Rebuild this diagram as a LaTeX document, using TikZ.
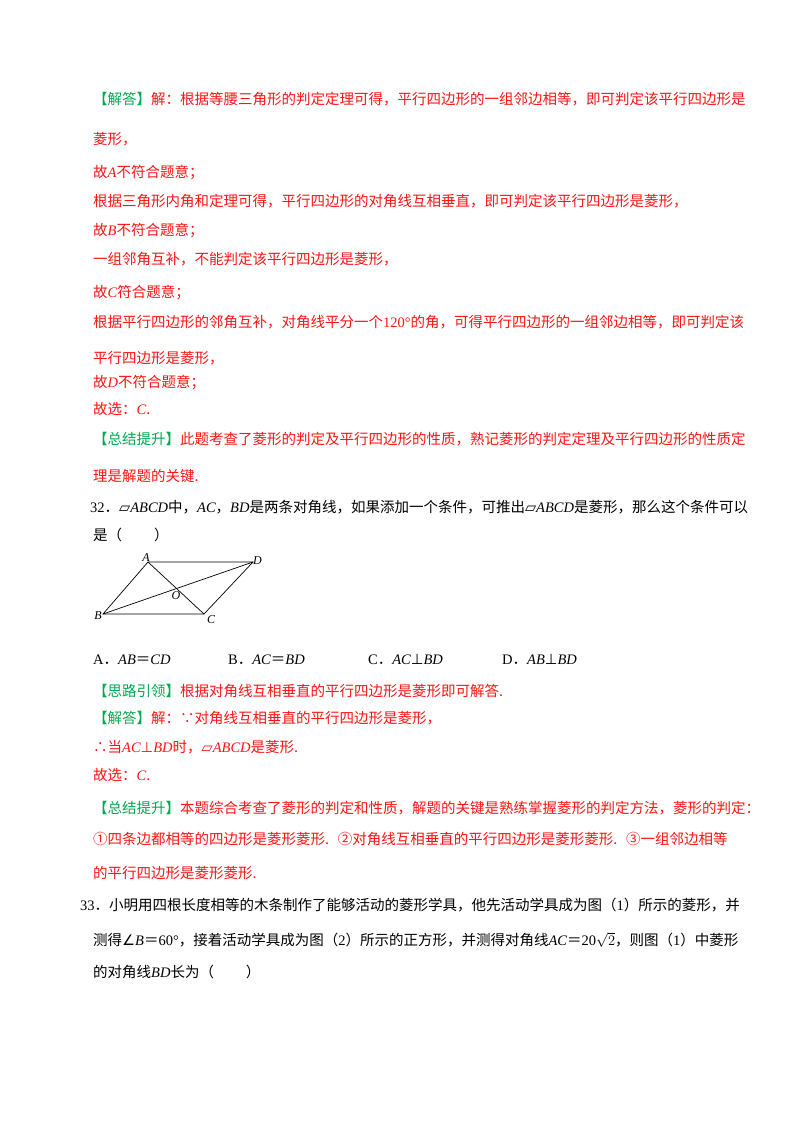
\documentclass[tikz,border=0pt]{standalone}
\usepackage{fontspec}
\setmainfont{Noto Sans CJK SC}
\newfontfamily\lat{Liberation Serif}
\newfontfamily\sym{DejaVu Sans}
\newcommand\vv[1]{{\lat\itshape #1}}
\newcommand\nn[1]{{\lat #1}}
\newcommand\pg{{\sym\symbol{"25B1}}}
\newcommand\myperp{{\sym ⊥}}
\newcommand\myang{{\sym ∠}}
\definecolor{rd}{RGB}{255,20,20}
\definecolor{gr}{RGB}{0,170,80}
\newcommand\tag[1]{{\color{gr}【#1】}}
\begin{document}
\begin{tikzpicture}[x=1pt,y=-1pt,
  ln/.style={anchor=base west,inner sep=0pt,font=\fontsize{14.5}{16}\selectfont},
  rl/.style={ln,text=rd},
  lab/.style={inner sep=1pt,font=\lat\itshape\fontsize{12}{13}\selectfont},
  seg/.style={line width=0.7pt}]
\useasboundingbox (0,0) rectangle (800,1132);
\fill[white] (0,0) rectangle (800,1132);
\node[rl] (l1) at (93,104) {\tag{解答}解：根据等腰三角形的判定定理可得，平行四边形的一组邻边相等，即可判定该平行四边形是};
\node[rl] (l2) at (93,144) {菱形，};
\node[rl] (l3) at (93,177) {故\vv{A}不符合题意；};
\node[rl] (l4) at (93,206) {根据三角形内角和定理可得，平行四边形的对角线互相垂直，即可判定该平行四边形是菱形，};
\node[rl] (l5) at (93,235) {故\vv{B}不符合题意；};
\node[rl] (l6) at (93,264) {一组邻角互补，不能判定该平行四边形是菱形，};
\node[rl] (l7) at (93,297) {故\vv{C}符合题意；};
\node[rl] (l8) at (93,327) {根据平行四边形的邻角互补，对角线平分一个\nn{120°}的角，可得平行四边形的一组邻边相等，即可判定该};
\node[rl] (l9) at (93,363) {平行四边形是菱形，};
\node[rl] (l10) at (93,387) {故\vv{D}不符合题意；};
\node[rl] (l11) at (93,414) {故选：\vv{C}.};
\node[rl] (l12) at (93,444) {\tag{总结提升}此题考查了菱形的判定及平行四边形的性质，熟记菱形的判定定理及平行四边形的性质定};
\node[rl] (l13) at (93,481) {理是解题的关键.};
\node[ln] (q1) at (90,512) {\nn{32}．\pg\vv{ABCD}中，\vv{AC}，\vv{BD}是两条对角线，如果添加一个条件，可推出\pg\vv{ABCD}是菱形，那么这个条件可以};
\node[ln] (q2) at (93,540) {是（\hspace{2.2em}）};
\coordinate (A) at (148,562);
\coordinate (D) at (253,562);
\coordinate (B) at (103,614);
\coordinate (C) at (204,614);
\draw[seg] (A) -- (D) -- (C) -- (B) -- cycle;
\draw[seg] (A) -- (C);
\draw[seg] (B) -- (D);
\node[lab,anchor=south east] (lA) at (151,563) {A};
\node[lab,anchor=west] (lD) at (252,561) {D};
\node[lab,anchor=east] (lB) at (103,616) {B};
\node[lab,anchor=west] (lC) at (206,620) {C};
\node[lab] (lO) at (176,596) {O};
\node[ln] (oA) at (93,664) {\nn{A}．\vv{AB}＝\vv{CD}};
\node[ln] (oB) at (228,664) {\nn{B}．\vv{AC}＝\vv{BD}};
\node[ln] (oC) at (368,664) {\nn{C}．\vv{AC}\myperp\vv{BD}};
\node[ln] (oD) at (502,664) {\nn{D}．\vv{AB}\myperp\vv{BD}};
\node[rl] (r1) at (93,696) {\tag{思路引领}根据对角线互相垂直的平行四边形是菱形即可解答.};
\node[rl] (r2) at (93,723) {\tag{解答}解：∵对角线互相垂直的平行四边形是菱形，};
\node[rl] (r3) at (93,752) {∴当\vv{AC}\myperp\vv{BD}时，\pg\vv{ABCD}是菱形.};
\node[rl] (r4) at (93,780) {故选：\vv{C}.};
\node[rl] (r5) at (93,813) {\tag{总结提升}本题综合考查了菱形的判定和性质，解题的关键是熟练掌握菱形的判定方法，菱形的判定：};
\node[rl] (r6) at (93,844) {①四条边都相等的四边形是菱形菱形.\hspace{0.6em}②对角线互相垂直的平行四边形是菱形菱形.\hspace{0.6em}③一组邻边相等};
\node[rl] (r7) at (93,878) {的平行四边形是菱形菱形.};
\node[ln] (s1) at (80,910) {\nn{33}．小明用四根长度相等的木条制作了能够活动的菱形学具，他先活动学具成为图（\nn{1}）所示的菱形，并};
\node[ln] (s2) at (93,945) {测得\myang\vv{B}＝\nn{60°}，接着活动学具成为图（\nn{2}）所示的正方形，并测得对角线\vv{AC}＝\nn{20}$\sqrt{2}$，则图（\nn{1}）中菱形};
\node[ln] (s3) at (93,977) {的对角线\vv{BD}长为（\hspace{2.2em}）};
\end{tikzpicture}
\end{document}
